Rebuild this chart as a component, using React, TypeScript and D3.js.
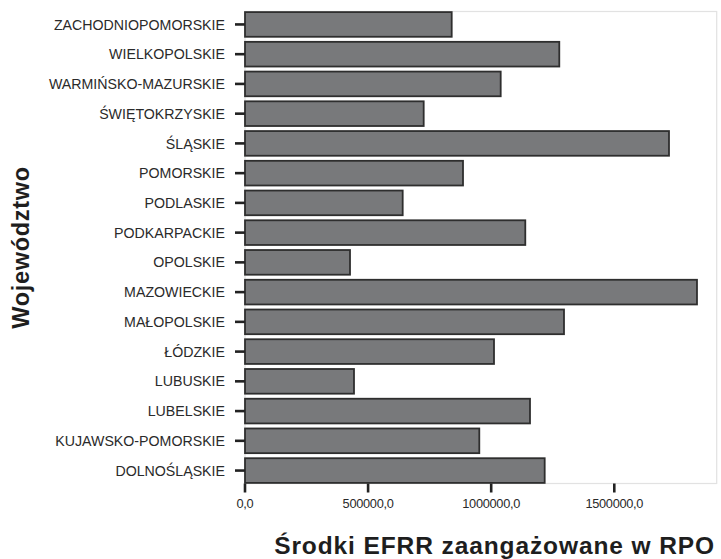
import React from "react";
import * as d3 from "d3";

const categories = [
  "ZACHODNIOPOMORSKIE",
  "WIELKOPOLSKIE",
  "WARMIŃSKO-MAZURSKIE",
  "ŚWIĘTOKRZYSKIE",
  "ŚLĄSKIE",
  "POMORSKIE",
  "PODLASKIE",
  "PODKARPACKIE",
  "OPOLSKIE",
  "MAZOWIECKIE",
  "MAŁOPOLSKIE",
  "ŁÓDZKIE",
  "LUBUSKIE",
  "LUBELSKIE",
  "KUJAWSKO-POMORSKIE",
  "DOLNOŚLĄSKIE",
];

const values = [
  839600, 1276600, 1038600, 725800, 1722200, 885500, 640500, 1138500,
  426500, 1835900, 1295700, 1011400, 442700, 1157600, 951700, 1217300,
];

const xTicks = [0, 500000, 1000000, 1500000];
const xTickLabels = ["0,0", "500000,0", "1000000,0", "1500000,0"];
const xMax = 1916000;

const xTitle = "Środki EFRR zaangażowane w RPO";
const yTitle = "Województwo";

export default function App() {
  const W = 721;
  const H = 559;
  const left = 245;
  const right = 716.7;
  const top = 11.5;
  const bottom = 483.5;

  const x = d3.scaleLinear().domain([0, xMax]).range([left, right]);
  const y = d3
    .scaleBand<string>()
    .domain(categories)
    .range([top, bottom])
    .paddingInner(0.17)
    .paddingOuter(0.02);

  const font = "'Liberation Sans', Arial, sans-serif";

  return (
    <svg
      width={W}
      height={H}
      style={{ position: "absolute", left: 0, top: 0, background: "#fff" }}
      fontFamily={font}
    >
      <rect x={0} y={0} width={W} height={H} fill="#fff" />
      {/* plot frame */}
      <rect
        x={left}
        y={top}
        width={right - left}
        height={bottom - top}
        fill="none"
        stroke="#e2e2e2"
        strokeWidth={1.2}
      />
      {/* bars */}
      {categories.map((c, i) => (
        <rect
          key={c}
          x={x(0)}
          y={y(c)!}
          width={x(values[i]) - x(0)}
          height={y.bandwidth()}
          fill="#78797b"
          stroke="#2e2e2e"
          strokeWidth={1.8}
        />
      ))}
      {/* y ticks and labels */}
      {categories.map((c) => {
        const cy = y(c)! + y.bandwidth() / 2;
        return (
          <g key={"t" + c}>
            <line x1={235} x2={x(0)} y1={cy} y2={cy} stroke="#222" strokeWidth={2.6} />
            <text
              x={225}
              y={cy}
              dy="0.36em"
              textAnchor="end"
              fontSize={14.2}
              fill="#2a2a2a"
              letterSpacing={0}
            >
              {c}
            </text>
          </g>
        );
      })}
      {/* x ticks and labels */}
      {xTicks.map((t, i) => (
        <g key={"x" + t}>
          <line x1={x(t)} x2={x(t)} y1={bottom} y2={bottom + 9} stroke="#222" strokeWidth={2.6} />
          <text
            x={x(t)}
            y={508}
            textAnchor="middle"
            fontSize={12.8}
            fill="#2a2a2a"
            letterSpacing={-0.3}
          >
            {xTickLabels[i]}
          </text>
        </g>
      ))}
      {/* axis titles */}
      <text
        x={715}
        y={554}
        textAnchor="end"
        fontSize={24.5}
        fontWeight="bold"
        fill="#1e1e1e"
        letterSpacing={0.9}
      >
        {xTitle}
      </text>
      <text
        transform={`translate(28.5,247.5) rotate(-90)`}
        textAnchor="middle"
        fontSize={23.5}
        fontWeight="bold"
        fill="#1e1e1e"
        letterSpacing={0.7}
      >
        {yTitle}
      </text>
    </svg>
  );
}
